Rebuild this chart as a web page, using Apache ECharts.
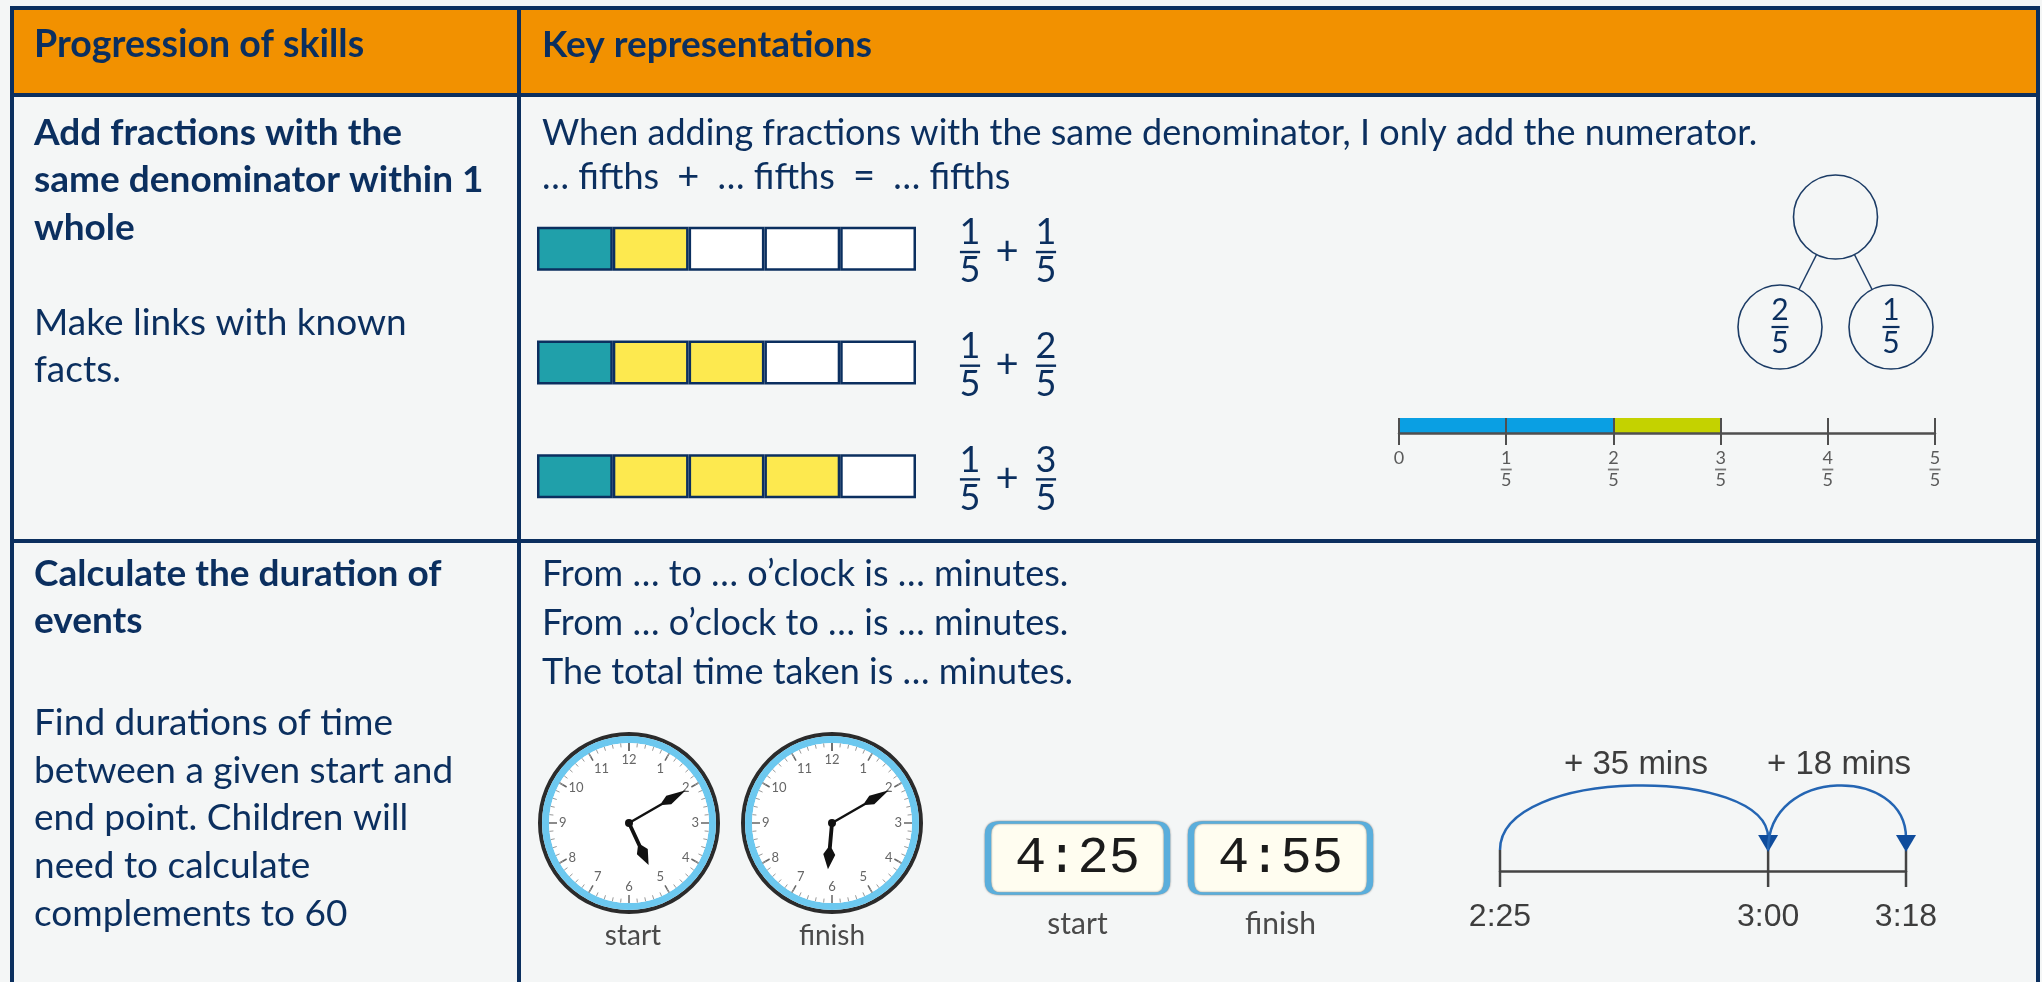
<!DOCTYPE html>
<html>
<head>
<meta charset="utf-8">
<title>Progression of skills</title>
<style>
  html, body { margin: 0; padding: 0; background: #f4f6f6; }
  #main { width: 2042px; height: 982px; }
</style>
<script src="https://cdn.jsdelivr.net/npm/echarts@6/dist/echarts.min.js"></script>
</head>
<body>
<div id="main"></div>
<script>
// table text
var headers = ['Progression of skills', 'Key representations']
var skill1Title = ['Add fractions with the', 'same denominator within 1', 'whole']
var skill1Note = ['Make links with known', 'facts.']
var skill2Title = ['Calculate the duration of', 'events']
var skill2Note = ['Find durations of time', 'between a given start and', 'end point. Children will', 'need to calculate', 'complements to 60']
var rep1Lines = ['When adding fractions with the same denominator, I only add the numerator.', '… fifths + … fifths = … fifths']
var rep2Lines = ['From … to … o’clock is … minutes.', 'From … o’clock to … is … minutes.', 'The total time taken is … minutes.']

// bar models (fifths): first part + second part
var wholeParts = 5
var barTeal = [1, 1, 1]
var barYellow = [1, 2, 3]

// part-whole model
var bondParts = [2, 1]

// fraction number line, shaded fifths
var lineBlue = [2]
var lineGreen = [1]

// clocks
var clockNames = ['start', 'finish']
var clockHours = [5, 6]
var clockMinutes = [10, 10]
var digitalTimes = ['4:25', '4:55']

// time number line (minutes, 2:25 = 145)
var timeLabels = ['2:25', '3:00', '3:18']
var timeMinutes = [145, 180, 198]

var NAVY = '#0b2f5f'
var ORANGE = '#f29100'
var BG = '#f4f6f6'
var TEAL = '#20a0aa'
var YELLOW = '#fde94f'
var FONT = 'Lato, "Noto Sans", sans-serif'
var ARIAL = '"Liberation Sans", Arial, sans-serif'

function textLines(lines, x, y0, lh, size, bold) {
  return lines.map(function (s, i) {
    return {
      type: 'text', x: x, y: y0 + i * lh, z: 20,
      style: {
        text: s, fill: NAVY, font: (bold ? 'bold ' : '') + size + 'px ' + FONT,
        align: 'left', textAlign: 'left', verticalAlign: 'middle', textVerticalAlign: 'middle'
      }
    }
  })
}

function centerText(s, x, y, font, color) {
  return {
    type: 'text', x: x, y: y, z: 20,
    style: { text: s, font: font, fill: color, align: 'center', textAlign: 'center', verticalAlign: 'middle', textVerticalAlign: 'middle' }
  }
}

function box(x, y, w, h, color) {
  return { type: 'rect', z: 10, shape: { x: x, y: y, width: w, height: h }, style: { fill: color } }
}

function fracShape(x, y, num, den, size, gap, color) {
  var font = size + 'px ' + FONT
  return [
    centerText(String(num), x, y - gap, font, color),
    { type: 'rect', shape: { x: x - size * 0.28, y: y - 1, width: size * 0.56, height: 2.4 }, style: { fill: color } },
    centerText(String(den), x, y + gap, font, color)
  ]
}

// "... fifths + ... fifths = ... fifths" with roomier math signs
var fifthsLine = {
  type: 'text', x: 542, y: 177, z: 20,
  style: {
    text: rep1Lines[1].replace(' + ', ' {op|+} ').replace(' = ', ' {op|=} '),
    fill: NAVY, font: '36px ' + FONT, verticalAlign: 'middle', textVerticalAlign: 'middle',
    rich: { op: { fontSize: 38, fontFamily: FONT, fill: NAVY, padding: [0, 9] } }
  }
}

// table frame + text
var graphics = [
  box(14, 10, 2022, 83, ORANGE),
  box(10, 6, 2030, 4, NAVY),
  box(10, 93, 2030, 4, NAVY),
  box(10, 539, 2030, 4, NAVY),
  box(10, 6, 4, 976, NAVY),
  box(517, 6, 4, 976, NAVY),
  box(2036, 6, 4, 976, NAVY)
]
graphics = graphics
  .concat(textLines([headers[0]], 34, 45, 0, 37.5, true))
  .concat(textLines([headers[1]], 542, 45, 0, 37, true))
  .concat(textLines(skill1Title, 34, 133, 47.5, 37, true))
  .concat(textLines(skill1Note, 34, 323, 47.5, 37, false))
  .concat(textLines(skill2Title, 34, 574, 47.5, 37, true))
  .concat(textLines(skill2Note, 34, 723, 47.7, 37, false))
  .concat(textLines([rep1Lines[0]], 542, 133, 0, 36, false))
  .concat([fifthsLine])
  .concat(textLines(rep2Lines, 542, 574, 49, 36, false))
  .concat([
    centerText(clockNames[0], 633, 936, '28px ' + FONT, '#4a4a4a'),
    centerText(clockNames[1], 832, 936, '28px ' + FONT, '#4a4a4a')
  ])

// bar model cells: one stacked series per fifth
var cellSeries = []
for (var c = 0; c < wholeParts; c++) {
  cellSeries.push({
    type: 'bar', name: 'cell' + c, stack: 'model', xAxisIndex: 0, yAxisIndex: 0,
    barWidth: 44, silent: true,
    data: barTeal.map(function (t, i) {
      var col = c < t ? TEAL : (c < t + barYellow[i] ? YELLOW : '#ffffff')
      return { value: 1, itemStyle: { color: col } }
    }),
    itemStyle: { borderColor: NAVY, borderWidth: 2.5 }
  })
}

var MINUTE_HAND = 'path://M4,100 L4,42 L1,30 L5,0 L9,30 L6,42 L6,100 Z'
var HOUR_HAND = 'path://M3.4,100 L3.4,46 L0,32 L5,0 L10,32 L6.6,46 L6.6,100 Z'

function clockSeries(cx, cy, hour, minute) {
  var base = {
    type: 'gauge', center: [cx, cy], startAngle: 90, endAngle: -270, silent: true,
    pointer: { show: false }, axisTick: { show: false }, splitLine: { show: false },
    axisLabel: { show: false }, detail: { show: false }, title: { show: false },
    anchor: { show: false }, progress: { show: false }, data: [{ value: 0 }]
  }
  return [
    Object.assign({}, base, { radius: 91, axisLine: { lineStyle: { width: 4, color: [[1, '#2b2b2b']] } } }),
    Object.assign({}, base, { radius: 87, axisLine: { lineStyle: { width: 7, color: [[1, '#6cc8ef']] } } }),
    Object.assign({}, base, { radius: 80, axisLine: { lineStyle: { width: 80, color: [[1, '#ffffff']] } } }),
    Object.assign({}, base, {
      radius: 80, min: 0, max: 12, splitNumber: 12,
      axisLine: { show: false, lineStyle: { width: 0 } },
      splitLine: { show: true, length: 8, distance: 0, lineStyle: { color: '#666', width: 1.5 } },
      axisTick: { show: true, splitNumber: 5, length: 4, distance: 0, lineStyle: { color: '#999', width: 1 } },
      axisLabel: { show: true, distance: 2, fontSize: 13, color: '#666', fontFamily: FONT, formatter: function (v) { return v === 0 ? '' : v } }
    }),
    Object.assign({}, base, {
      radius: 80, min: 0, max: 12, axisLine: { show: false, lineStyle: { width: 0 } },
      pointer: { show: true, icon: HOUR_HAND, length: '58%', width: 12, itemStyle: { color: '#111' } },
      data: [{ value: hour + minute / 60 }]
    }),
    Object.assign({}, base, {
      radius: 80, min: 0, max: 60, axisLine: { show: false, lineStyle: { width: 0 } },
      pointer: { show: true, icon: MINUTE_HAND, length: '82%', width: 10, itemStyle: { color: '#111' } },
      anchor: { show: true, size: 8, itemStyle: { color: '#111' } },
      data: [{ value: minute }]
    })
  ]
}

var jumps = []
for (var j = 1; j < timeMinutes.length; j++) jumps.push([timeMinutes[j - 1], timeMinutes[j]])

var DIGI_BOX = 'path://M12,0 H167 Q179,0 179,12 V59 Q179,71 167,71 H12 Q0,71 0,59 V12 Q0,0 12,0 Z'

var option = {
  backgroundColor: BG,
  animation: false,
  graphic: { elements: graphics },
  grid: [
    { left: 537, top: 192, width: 379, height: 341, outerBoundsMode: 'none' },
    { left: 1399, top: 418, width: 536, height: 15, outerBoundsMode: 'none' },
    { left: 1780, top: 217, width: 111, height: 110, outerBoundsMode: 'none' },
    { left: 976, top: 823, width: 406, height: 70, outerBoundsMode: 'none' },
    { left: 1500, top: 850, width: 406, height: 21, outerBoundsMode: 'none' }
  ],
  xAxis: [
    { gridIndex: 0, type: 'value', min: 0, max: wholeParts, show: false },
    {
      gridIndex: 1, type: 'value', min: 0, max: wholeParts, interval: 1, z: 5,
      axisLine: { show: true, lineStyle: { color: '#4f4f4f', width: 2.5 } },
      axisTick: { show: true, length: 12, lineStyle: { color: '#4f4f4f', width: 2 } },
      splitLine: { show: true, lineStyle: { color: '#4f4f4f', width: 2 } },
      axisLabel: {
        margin: 17,
        formatter: function (v) { return v === 0 ? '{z|0}' : '{n|' + v + '}\n{b|}\n{d|' + wholeParts + '}' },
        rich: {
          z: { fontSize: 18, lineHeight: 17, color: '#5a5a5a', fontFamily: FONT, align: 'center' },
          n: { fontSize: 18, lineHeight: 17, color: '#5a5a5a', fontFamily: FONT, align: 'center' },
          b: { width: 11, height: 1.8, lineHeight: 5, backgroundColor: '#777', align: 'center' },
          d: { fontSize: 18, lineHeight: 17, color: '#5a5a5a', fontFamily: FONT, align: 'center' }
        }
      }
    },
    { gridIndex: 2, type: 'value', min: 0, max: 2, show: false },
    {
      gridIndex: 3, type: 'category', data: clockNames,
      axisLine: { show: false }, axisTick: { show: false },
      axisLabel: { margin: 16, fontSize: 30, color: '#4a4a4a', fontFamily: FONT }
    },
    {
      gridIndex: 4, type: 'value', min: timeMinutes[0], max: timeMinutes[timeMinutes.length - 1],
      axisLine: { show: true, lineStyle: { color: '#444', width: 2.5 } },
      axisTick: { show: false }, axisLabel: { show: false }, splitLine: { show: false }
    }
  ],
  yAxis: [
    { gridIndex: 0, type: 'category', inverse: true, data: barTeal.map(function (t, i) { return 'row' + i }), show: false },
    { gridIndex: 1, type: 'category', data: ['shaded'], show: false },
    { gridIndex: 2, type: 'value', min: 0, max: 1, show: false },
    { gridIndex: 3, type: 'value', min: 0, max: 1, show: false },
    { gridIndex: 4, type: 'value', min: 0, max: 1, show: false }
  ],
  series: cellSeries.concat([
    {
      // fraction sentences beside the bar models
      type: 'custom', xAxisIndex: 0, yAxisIndex: 0, silent: true,
      data: barTeal.map(function (t, i) { return [wholeParts, i, t, barYellow[i]] }),
      renderItem: function (params, api) {
        var p = api.coord([api.value(0), api.value(1)])
        var x0 = p[0] + 54
        var y0 = p[1] + 3
        var kids = fracShape(x0, y0, api.value(2), wholeParts, 36, 19, NAVY)
          .concat([centerText('+', x0 + 37, y0, '40px ' + FONT, NAVY)])
          .concat(fracShape(x0 + 76, y0, api.value(3), wholeParts, 36, 19, NAVY))
        return { type: 'group', children: kids }
      }
    },
    {
      type: 'bar', stack: 'line', xAxisIndex: 1, yAxisIndex: 1, barWidth: 15, silent: true,
      itemStyle: { color: '#0a9fe3' }, data: lineBlue
    },
    {
      type: 'bar', stack: 'line', xAxisIndex: 1, yAxisIndex: 1, barWidth: 15, silent: true,
      itemStyle: { color: '#c4d200' }, data: lineGreen
    },
    {
      type: 'lines', coordinateSystem: 'cartesian2d', xAxisIndex: 2, yAxisIndex: 2, z: 2, silent: true,
      lineStyle: { color: '#1c3c66', width: 1.5, opacity: 1 },
      data: bondParts.map(function (p, i) { return { coords: [[1, 1], [i * 2, 0]] } })
    },
    {
      type: 'scatter', xAxisIndex: 2, yAxisIndex: 2, z: 3, silent: true,
      symbolSize: 84,
      itemStyle: { color: BG, borderColor: '#1c3c66', borderWidth: 1.6, opacity: 1 },
      label: {
        show: true, position: 'inside',
        formatter: function (p) { return p.data.num ? '{n|' + p.data.num + '}\n{b|}\n{d|' + wholeParts + '}' : '' },
        rich: {
          n: { fontSize: 30, lineHeight: 28, color: NAVY, fontFamily: FONT, align: 'center' },
          b: { width: 17, height: 2.2, lineHeight: 5, backgroundColor: NAVY, align: 'center' },
          d: { fontSize: 30, lineHeight: 28, color: NAVY, fontFamily: FONT, align: 'center' }
        }
      },
      data: [{ value: [1, 1], num: null }].concat(bondParts.map(function (p, i) { return { value: [i * 2, 0], num: p } }))
    },
    {
      type: 'scatter', xAxisIndex: 3, yAxisIndex: 3, silent: true,
      symbol: DIGI_BOX, symbolSize: [179, 71], symbolKeepAspect: false,
      itemStyle: { color: '#fffdf0', borderColor: '#5aaedc', borderWidth: 4, opacity: 1, shadowColor: 'rgba(0,0,0,0.5)', shadowBlur: 2 },
      label: {
        show: true, position: 'inside', color: '#1b1b1b', fontSize: 52, fontFamily: '"Liberation Mono", "DejaVu Sans Mono", monospace',
        formatter: function (p) { return p.name }
      },
      data: digitalTimes.map(function (t, i) { return { name: t, value: [i, 0.5] } })
    },
    {
      // time number line ticks and labels
      type: 'custom', xAxisIndex: 4, yAxisIndex: 4, silent: true,
      data: timeMinutes.map(function (m) { return [m, 1] }),
      renderItem: function (params, api) {
        var p = api.coord([api.value(0), api.value(1)])
        return {
          type: 'group', children: [
            { type: 'line', shape: { x1: p[0], y1: p[1], x2: p[0], y2: p[1] + 37 }, style: { stroke: '#444', lineWidth: 2.5 } },
            centerText(timeLabels[params.dataIndex], p[0], p[1] + 67, '32px ' + ARIAL, '#3d3d3d')
          ]
        }
      }
    },
    {
      // jumps between times
      type: 'custom', xAxisIndex: 4, yAxisIndex: 4, silent: true, z: 4,
      data: jumps,
      renderItem: function (params, api) {
        var a = api.coord([api.value(0), 1])
        var b = api.coord([api.value(1), 1])
        var y = a[1]
        var mins = api.value(1) - api.value(0)
        return {
          type: 'group', children: [
            {
              type: 'bezierCurve',
              shape: { x1: a[0], y1: y, cpx1: a[0], cpy1: y - 84, cpx2: b[0], cpy2: y - 84, x2: b[0], y2: y - 12 },
              style: { stroke: '#2465b3', lineWidth: 2.5, fill: null }
            },
            {
              type: 'polygon',
              shape: { points: [[b[0] - 10, y - 15], [b[0] + 10, y - 15], [b[0], y + 2]] },
              style: { fill: '#0f4c9c' }
            },
            centerText('+ ' + mins + ' mins', (a[0] + b[0]) / 2 + 2, y - 85, '33px ' + ARIAL, '#3d3d3d')
          ]
        }
      }
    }
  ])
  .concat(clockSeries(629, 823, clockHours[0], clockMinutes[0]))
  .concat(clockSeries(832, 823, clockHours[1], clockMinutes[1]))
}

var chart = echarts.init(document.getElementById('main'))
chart.setOption(option)
</script>
</body>
</html>
